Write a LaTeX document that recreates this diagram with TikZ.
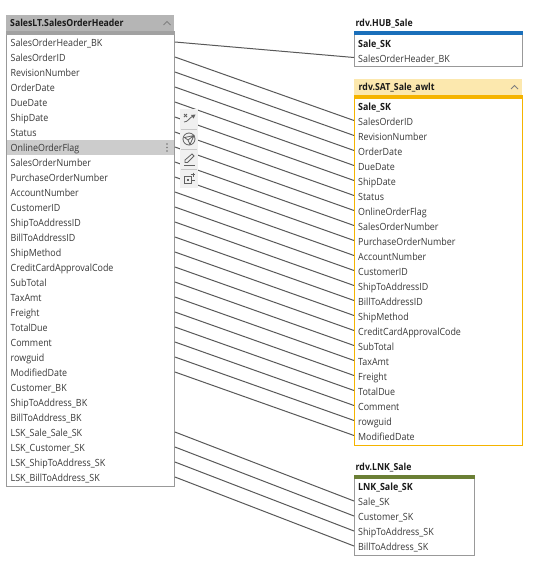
\documentclass[tikz,border=0pt]{standalone}
\usepackage{fontspec}
\setmainfont{Open Sans}[FakeStretch=0.9]
\definecolor{hubbar}{HTML}{1A6FBA}
\definecolor{satbg}{HTML}{FCE8AE}
\definecolor{satbar}{HTML}{F5B400}
\definecolor{lnkbar}{HTML}{6B7F35}
\tikzset{
 x=1pt,y=-1pt,
 rowl/.style={anchor=west,minimum width=168pt,inner xsep=3.2pt,inner ysep=0pt,text height=9.2pt,text depth=0pt,align=left,text width=160pt,text=black!78,font=\fontsize{9.9pt}{12pt}\selectfont},
 rowr/.style={rowl,inner xsep=3.8pt},
 rowk/.style={rowr,minimum width=120pt,text width=112pt},
 boldrow/.style={text=black!90,font=\fontsize{9.9pt}{12pt}\selectfont\bfseries},
 ttl/.style={anchor=base west,inner sep=0pt,text=black!90,font=\fontsize{9.7pt}{12pt}\selectfont\bfseries},
 box/.style={draw=black!40,line width=1pt,fill=white},
 link/.style={draw=black!65,line width=1pt},
 chev/.style={draw=black!50,line width=0.9pt},
 icon/.style={draw=black!62,line width=0.8pt,fill=none},
 sep/.style={draw=black!22,line width=0.7pt}
}
\begin{document}
\begin{tikzpicture}
\useasboundingbox (0,0) rectangle (534,565);
\fill[white] (0,0) rectangle (534,565);
% left table
\fill[black!29] (6,15) rectangle (174,31);
\path[box] (6.5,32) rectangle (174.5,486.5);
\fill[black!37] (6,31) rectangle (175,35);
\fill[black!20] (7,140) rectangle (174,155);
\node[ttl] (ltitle) at (10,26.2) {SalesLT.SalesOrderHeader};
\draw[chev] (163.5,25) -- (167,21.5) -- (170.5,25);
\foreach \t [count=\i] in {SalesOrderHeader\_BK,SalesOrderID,RevisionNumber,OrderDate,DueDate,ShipDate,Status,OnlineOrderFlag,SalesOrderNumber,PurchaseOrderNumber,AccountNumber,CustomerID,ShipToAddressID,BillToAddressID,ShipMethod,CreditCardApprovalCode,SubTotal,TaxAmt,Freight,TotalDue,Comment,rowguid,ModifiedDate,Customer\_BK,ShipToAddress\_BK,BillToAddress\_BK,LSK\_Sale\_Sale\_SK,LSK\_Customer\_SK,LSK\_ShipToAddress\_SK,LSK\_BillToAddress\_SK}
  \node[rowl] (l\i) at (6.5,{27+15*\i}) {\t};
\foreach \yy in {144,147.5,151} \fill[black!55] (167,\yy) circle (0.9);
% HUB
\node[ttl] (htitle) at (355.5,26.2) {rdv.HUB\_Sale};
\path[box] (354.5,32) rectangle (522.5,66);
\fill[hubbar] (354,31) rectangle (523,35);
\node[rowr,boldrow] (h1) at (354,42.5) {Sale\_SK};
\node[rowr] (h2) at (354,57.5) {SalesOrderHeader\_BK};
% SAT
\fill[satbg] (354,79) rectangle (522,95);
\path[box,draw=satbar] (354.5,96) rectangle (522.5,445);
\fill[satbar] (354,95) rectangle (523,99);
\node[ttl] (stitle) at (358.5,90.2) {rdv.SAT\_Sale\_awlt};
\draw[chev] (511,89) -- (514.5,85.5) -- (518,89);
\foreach \t [count=\i] in {Sale\_SK,SalesOrderID,RevisionNumber,OrderDate,DueDate,ShipDate,Status,OnlineOrderFlag,SalesOrderNumber,PurchaseOrderNumber,AccountNumber,CustomerID,ShipToAddressID,BillToAddressID,ShipMethod,CreditCardApprovalCode,SubTotal,TaxAmt,Freight,TotalDue,Comment,rowguid,ModifiedDate}
  \node[rowr] (s\i) at (354,{90.5+15*\i}) {\ifnum\i=1 \bfseries\color{black!90}\fi\t};
% LNK
\node[ttl] (ktitle) at (355.5,470.7) {rdv.LNK\_Sale};
\path[box] (354.5,476) rectangle (474.5,555);
\fill[lnkbar] (354,475) rectangle (475,479);
\foreach \t [count=\i] in {LNK\_Sale\_SK,Sale\_SK,Customer\_SK,ShipToAddress\_SK,BillToAddress\_SK}
  \node[rowk] (k\i) at (354,{471+15*\i}) {\ifnum\i=1 \bfseries\color{black!90}\fi\t};
% connectors
\draw[link] (l1.east) -- (h2.west);
\foreach \i in {2,...,23} \draw[link] (l\i.east) -- (s\i.west);
\foreach \a/\b in {27/2,28/3,29/4,30/5} \draw[link] (l\a.east) -- (k\b.west);
% toolbar
\fill[black!6] (180,109) rectangle (198,188);
\draw[sep] (181,129.5) -- (197,129.5);
\draw[sep] (181,149.5) -- (197,149.5);
\draw[sep] (181,169.5) -- (197,169.5);
\draw[icon] (184,114) -- (187,117) (187,114) -- (184,117);
\draw[icon] (184,122) .. controls (188,122) and (189,118) .. (193,116);
\fill[black!62] (195.5,114.5) -- (191,115) -- (193.5,118.5) -- cycle;
\draw[icon] (189,139) circle (6);
\draw[icon] (194,135.5) -- (184.5,137.5) -- (188,140) -- (190,144.5) -- cycle (188,140) -- (194,135.5);
\draw[icon] (185,160) -- (192,154) -- (194,156) -- (187.5,162.5) -- (185,162.5) -- cycle;
\draw[icon] (184,165) -- (195,165);
\draw[icon] (184.5,176) rectangle (191,183);
\fill[black!62] (187,178.5) rectangle (189,180.5);
\draw[icon] (191,180) -- (195,180);
\draw[icon] (193,172.5) -- (193,177) (190.7,174.7) -- (195.3,174.7);
\end{tikzpicture}
\end{document}
